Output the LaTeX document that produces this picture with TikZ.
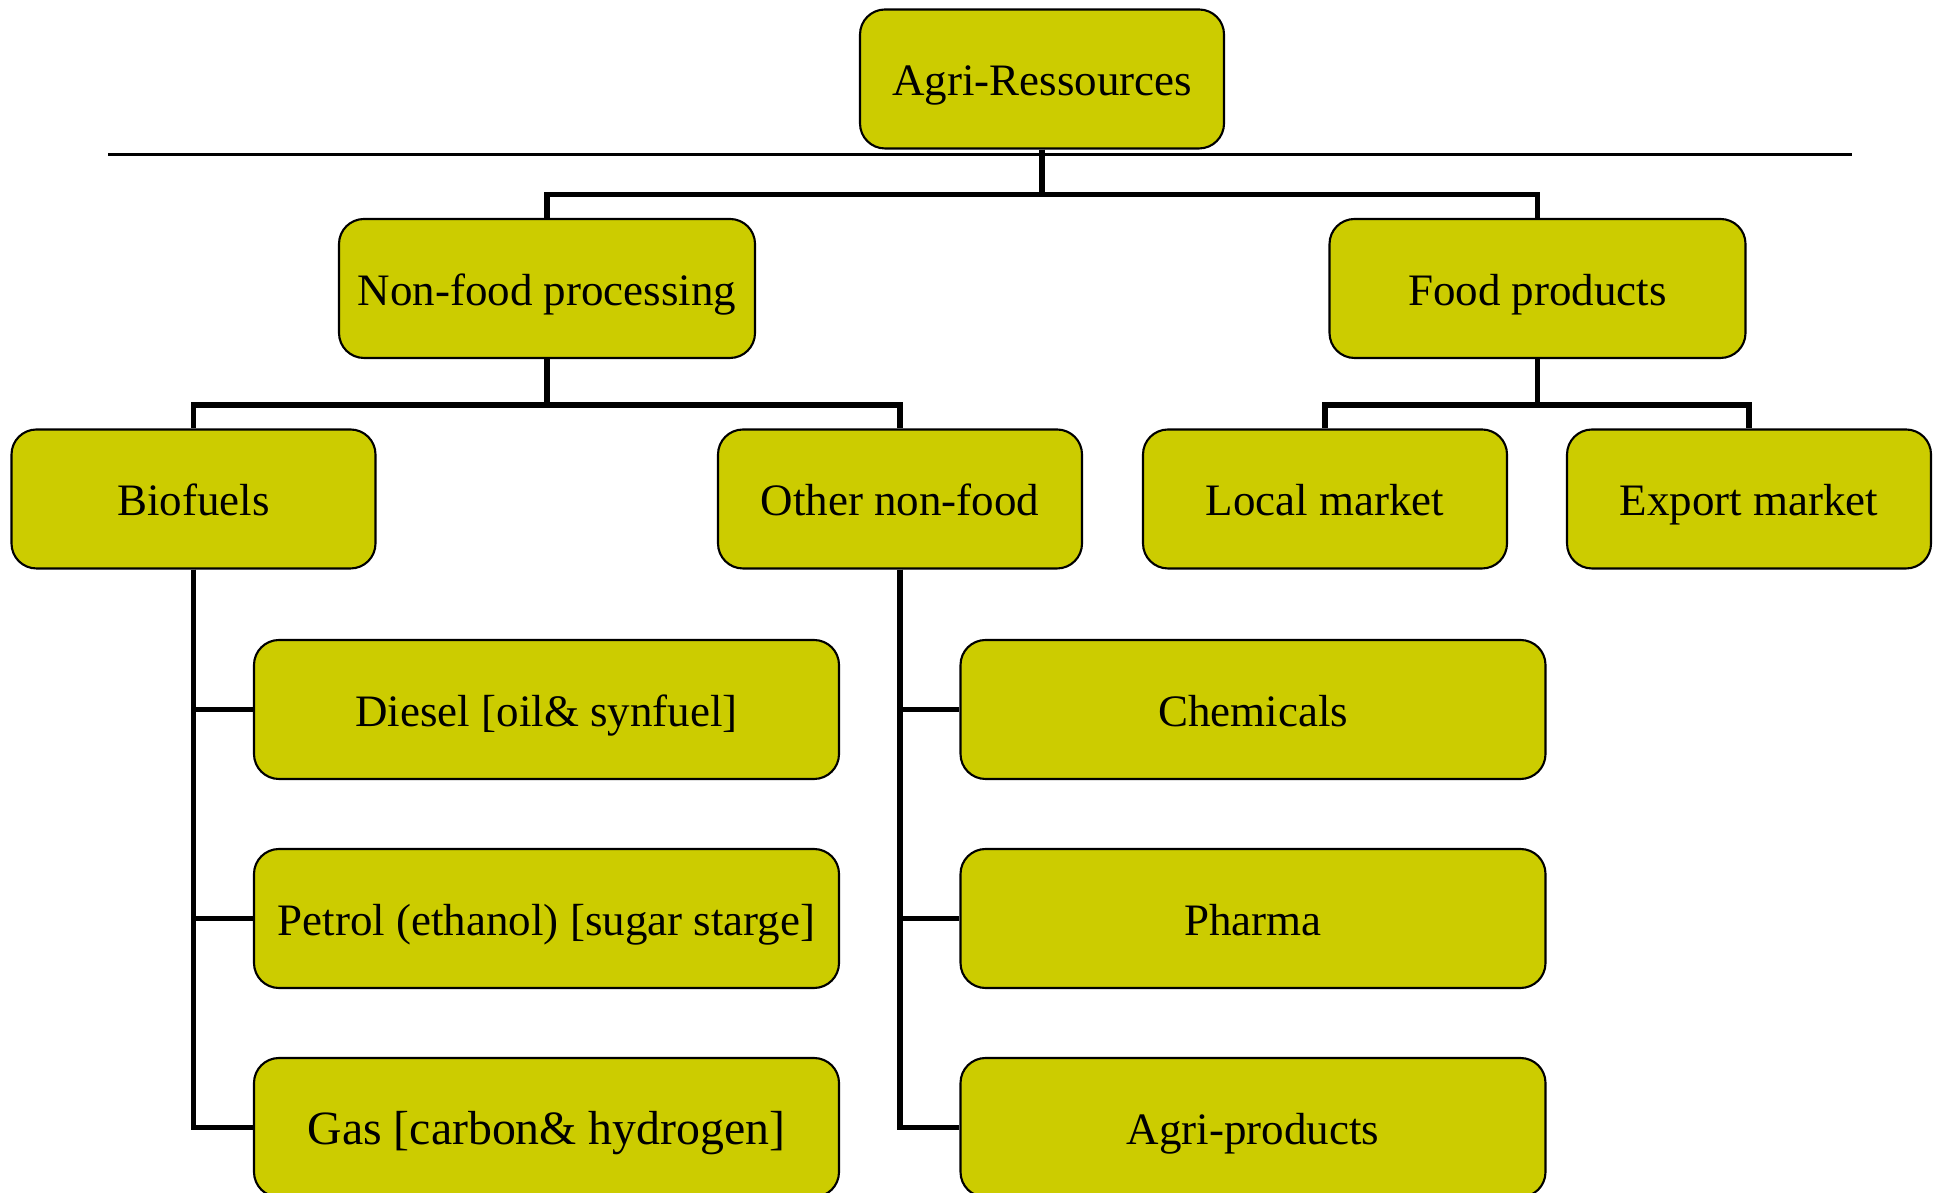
\documentclass[tikz,border=0pt]{standalone}
\usepackage{fontspec}
\setmainfont{Liberation Serif}
\definecolor{boxfill}{HTML}{CCCC00}

\begin{document}
\begin{tikzpicture}[
    box/.style={draw=black, line width=0.6pt, fill=boxfill, rounded corners=0.25cm,
      minimum height=1.39cm, inner sep=0pt, text height=1.16em, text depth=0.2em,
      font=\fontsize{12.8}{15}\selectfont},
    wide/.style={box, minimum width=5.85cm},
    conn/.style={line width=1.6pt}]
    \clip (0,0) rectangle (19.41,11.93);

    \node[box, minimum width=3.64cm] (agri) at (10.42,11.14) {Agri-Ressources};
    \node[box, minimum width=4.16cm] (nonfood) at (5.47,9.045) {Non-food processing};
    \node[box, minimum width=4.16cm] (food) at (15.375,9.045) {Food products};
    \node[box, minimum width=3.64cm] (bio) at (1.935,6.94) {Biofuels};
    \node[box, minimum width=3.64cm] (other) at (9.00,6.94) {Other non-food};
    \node[box, minimum width=3.64cm] (local) at (13.25,6.94) {Local market};
    \node[box, minimum width=3.64cm] (export) at (17.49,6.94) {Export market};
    \node[wide] (diesel) at (5.465,4.835) {Diesel [oil\& synfuel]};
    \node[wide] (petrol) at (5.465,2.745) {Petrol (ethanol) [sugar starge]};
    \node[wide, font=\fontsize{13.6}{16}\selectfont] (gas) at (5.465,0.655) {Gas [carbon\& hydrogen]};
    \node[wide] (chem) at (12.53,4.835) {Chemicals};
    \node[wide] (pharma) at (12.53,2.745) {Pharma};
    \node[wide] (agriprod) at (12.53,0.655) {Agri-products};

    \coordinate (rulel) at (1.08,10.385);
    \coordinate (ruler) at (18.52,10.385);
    \draw[line width=0.7pt] (rulel) -- (ruler);

    \draw[conn] (agri.south) -- ++(0,-0.45) -| (nonfood.north);
    \draw[conn] (agri.south) -- ++(0,-0.45) -| (food.north);
    \draw[conn] (nonfood.south) -- ++(0,-0.46) -| (bio.north);
    \draw[conn] (nonfood.south) -- ++(0,-0.46) -| (other.north);
    \draw[conn] (food.south) -- ++(0,-0.46) -| (local.north);
    \draw[conn] (food.south) -- ++(0,-0.46) -| (export.north);
    \draw[conn] (bio.south) |- (diesel.west);
    \draw[conn] (bio.south) |- (petrol.west);
    \draw[conn] (bio.south) |- (gas.west);
    \draw[conn] (other.south) |- (chem.west);
    \draw[conn] (other.south) |- (pharma.west);
    \draw[conn] (other.south) |- (agriprod.west);
\end{tikzpicture}
\end{document}
